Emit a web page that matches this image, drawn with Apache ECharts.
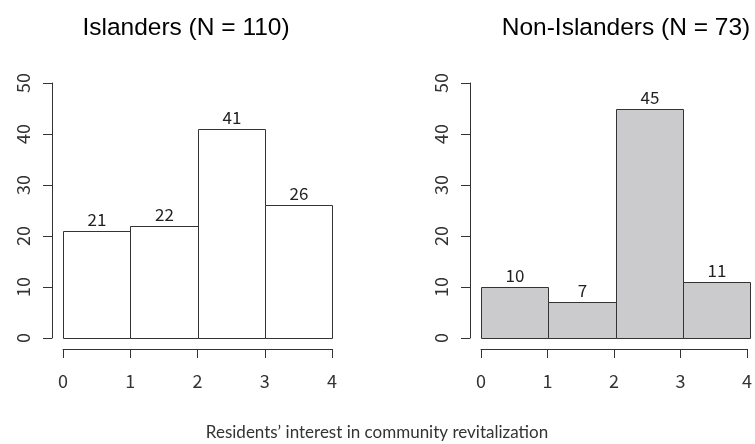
<!DOCTYPE html>
<html>
<head>
<meta charset="utf-8">
<script src="https://cdn.jsdelivr.net/npm/echarts@6/dist/echarts.min.js"></script>
<style>
  html, body { margin: 0; padding: 0; background: #fff; }
  #chart { width: 755px; height: 444px; }
</style>
</head>
<body>
<div id="chart"></div>
<script>
// Histogram bins (interest score intervals) and counts per group
const binEdges = [0, 1, 2, 3, 4];
const islanderCounts = [21, 22, 41, 26];
const nonIslanderCounts = [10, 7, 45, 11];
const panelTitles = ['Islanders (N = 110)', 'Non-Islanders (N = 73)'];
const xAxisTitle = 'Residents\u2019 interest in community revitalization';

const tickFont = '"Noto Sans CJK JP", "Noto Sans", sans-serif';
const titleFont = '"Liberation Sans", Arial, sans-serif';

function binData(counts) {
  return counts.map((c, i) => [binEdges[i], binEdges[i + 1], c]);
}

function renderBin(fill) {
  return function (params, api) {
    const p0 = api.coord([api.value(0), 0]);
    const p1 = api.coord([api.value(1), api.value(2)]);
    const x = Math.round(p0[0]) + 0.5;
    const w = Math.round(p1[0]) - Math.round(p0[0]);
    const y = Math.round(p1[1]) + 0.5;
    const h = Math.round(p0[1]) - Math.round(p1[1]);
    return {
      type: 'group',
      children: [
        {
          type: 'rect',
          shape: { x: x, y: y, width: w, height: h },
          style: { fill: fill, stroke: '#333', lineWidth: 1 }
        },
        {
          type: 'text',
          style: {
            x: x + w / 2,
            y: y - 3,
            text: String(api.value(2)),
            align: 'center',
            verticalAlign: 'bottom',
            font: '17px ' + tickFont,
            fill: '#222'
          }
        }
      ]
    };
  };
}

// Plot region of each panel; R-style axes sit detached from the bars
const panelLeft = [63, 481];
const plotW = 269, plotTop = 83, plotH = 255, gap = 11;

const grids = [], xAxes = [], yAxes = [];
const axisLine = { show: true, lineStyle: { color: '#333', width: 1 } };
const axisTick = { show: true, length: 9, lineStyle: { color: '#333', width: 1 } };
const xBase = { type: 'value', min: 0, max: 4, interval: 1, splitLine: { show: false } };
const yBase = { type: 'value', min: 0, max: 50, interval: 10, splitLine: { show: false } };

panelLeft.forEach((L) => {
  // data grid
  let g = grids.length;
  grids.push({ left: L, top: plotTop, width: plotW, height: plotH });
  xAxes.push(Object.assign({}, xBase, { gridIndex: g, show: false }));
  yAxes.push(Object.assign({}, yBase, { gridIndex: g, show: false }));
  // y axis grid, shifted left
  g = grids.length;
  grids.push({ left: L - gap, top: plotTop, width: plotW, height: plotH });
  xAxes.push(Object.assign({}, xBase, { gridIndex: g, show: false }));
  yAxes.push(Object.assign({}, yBase, {
    gridIndex: g, position: 'left', axisLine: axisLine, axisTick: axisTick,
    axisLabel: { rotate: 90, margin: 20, fontSize: 18, fontFamily: tickFont, color: '#333' }
  }));
  // x axis grid, shifted down
  g = grids.length;
  grids.push({ left: L, top: plotTop + gap, width: plotW, height: plotH });
  xAxes.push(Object.assign({}, xBase, {
    gridIndex: g, position: 'bottom', axisLine: axisLine, axisTick: axisTick,
    axisLabel: { margin: 23, fontSize: 18, fontFamily: tickFont, color: '#333' }
  }));
  yAxes.push(Object.assign({}, yBase, { gridIndex: g, show: false }));
});

const chart = echarts.init(document.getElementById('chart'), null, { renderer: 'canvas' });

chart.setOption({
  backgroundColor: '#fff',
  animation: false,
  grid: grids,
  xAxis: xAxes,
  yAxis: yAxes,
  graphic: [
    {
      type: 'text', x: 186, y: 28,
      style: { text: panelTitles[0], align: 'center', verticalAlign: 'middle', font: '24.5px ' + titleFont, fill: '#000' }
    },
    {
      type: 'text', x: 626, y: 28,
      style: { text: panelTitles[1], align: 'center', verticalAlign: 'middle', font: '24.5px ' + titleFont, fill: '#000' }
    },
    {
      type: 'text', x: 377, y: 433,
      style: { text: xAxisTitle, align: 'center', verticalAlign: 'middle', font: '17px Lato, "Noto Sans", sans-serif', fill: '#333' }
    }
  ],
  series: [
    {
      type: 'custom', xAxisIndex: 0, yAxisIndex: 0,
      renderItem: renderBin('#ffffff'),
      encode: { x: [0, 1], y: 2 },
      data: binData(islanderCounts)
    },
    {
      type: 'custom', xAxisIndex: 3, yAxisIndex: 3,
      renderItem: renderBin('#cbcbcd'),
      encode: { x: [0, 1], y: 2 },
      data: binData(nonIslanderCounts)
    }
  ]
});
</script>
</body>
</html>
